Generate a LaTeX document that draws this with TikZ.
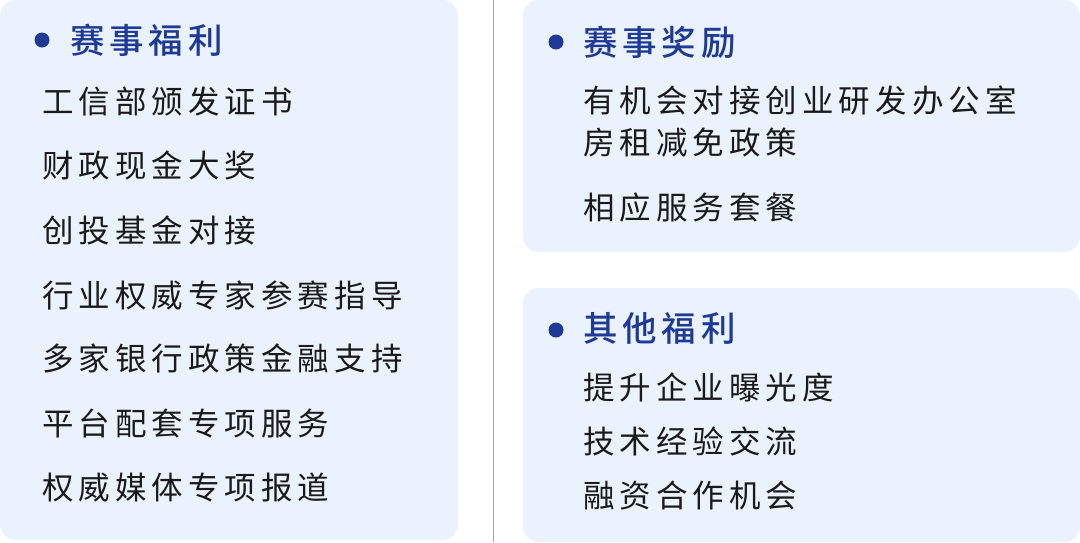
\documentclass[tikz,border=0pt]{standalone}
\usepackage{fontspec}
\newfontfamily\cjk[LetterSpace=16]{Noto Sans CJK SC}
\newfontfamily\cjkbold[LetterSpace=14]{Noto Sans CJK SC Medium}
\usetikzlibrary{positioning}
\definecolor{panelblue}{HTML}{E9F2FD}
\definecolor{titleblue}{HTML}{1E3A96}
\definecolor{itemtext}{HTML}{1A1A1A}
\tikzset{
  panel/.style={fill=panelblue, rounded corners=16pt, draw=none},
  dot/.style={circle, fill=titleblue, inner sep=0pt, minimum size=15pt},
  heading/.style={anchor=west, inner sep=0pt, text=titleblue, font=\cjkbold\fontsize{34.5}{38}\selectfont},
  item/.style={anchor=west, inner sep=0pt, text=itemtext, font=\cjk\fontsize{31.5}{35}\selectfont, align=left}
}
\begin{document}
\begin{tikzpicture}[x=1pt, y=-1pt]
        \useasboundingbox (0,0) rectangle (1080,542);
        % panels
        \fill[panel] (0,0) rectangle (458,540);
        \fill[panel] (523,0) rectangle (1080,252);
        \fill[panel] (523,288) rectangle (1080,542);
        \draw[gray!70, line width=1pt] (493,0) -- (493,542);

        % left: welfare
        \node[dot] (welfaredot) at (42,40) {};
        \node[heading] (welfare) at (70,40) {赛事福利};
        \node[item] (w1) at (42,102) {工信部颁发证书};
        \node[item] (w2) at (42,165) {财政现金大奖};
        \node[item] (w3) at (42,230) {创投基金对接};
        \node[item] (w4) at (42,295) {行业权威专家参赛指导};
        \node[item] (w5) at (42,358) {多家银行政策金融支持};
        \node[item] (w6) at (42,423) {平台配套专项服务};
        \node[item] (w7) at (42,488) {权威媒体专项报道};

        % right top: awards
        \node[dot] (awarddot) at (556,42) {};
        \node[heading] (award) at (583,42) {赛事奖励};
        \node[item] (a1) at (583,100) {有机会对接创业研发办公室};
        \node[item] (a2) at (583,143) {房租减免政策};
        \node[item] (a3) at (583,208) {相应服务套餐};

        % right bottom: other
        \node[dot] (otherdot) at (556,330) {};
        \node[heading] (other) at (583,328) {其他福利};
        \node[item] (o1) at (583,387) {提升企业曝光度};
        \node[item] (o2) at (583,441) {技术经验交流};
        \node[item] (o3) at (583,496) {融资合作机会};
\end{tikzpicture}
\end{document}
